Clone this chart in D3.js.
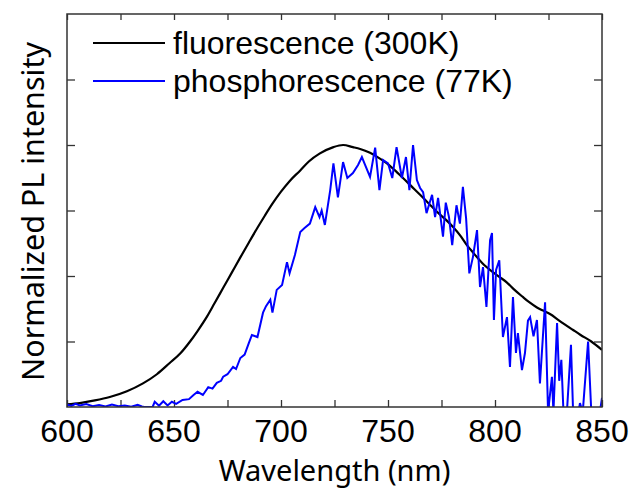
<!DOCTYPE html>
<html>
<head>
<meta charset="utf-8">
<script src="https://cdn.jsdelivr.net/npm/d3@7"></script>
<style>
  body { margin: 0; background: #fff; }
  text { fill: #000; }
</style>
</head>
<body>
<svg id="chart"></svg>
<script>
// fluorescence (300K): [wavelength nm, normalized intensity]
var fluoWl = [600, 606, 613, 620, 628, 635.5, 642, 648, 653, 657.5, 661, 665.4, 669, 673, 677, 681, 685, 689, 692.5, 696, 700, 704, 709, 713, 718, 724.5, 729, 733.6, 737, 741.6, 745.5, 749.5, 753, 757, 761, 765, 769, 773, 777, 780.4, 783.6, 786.5, 789.7, 794, 799, 802, 805.6, 809, 813, 816, 819.6, 822.5, 825.7, 830, 836.5, 840, 845, 850];
var fluoVal = [0.01, 0.015, 0.025, 0.038, 0.06, 0.09, 0.125, 0.168, 0.205, 0.25, 0.29, 0.345, 0.397, 0.455, 0.513, 0.571, 0.628, 0.684, 0.731, 0.776, 0.822, 0.862, 0.903, 0.937, 0.967, 0.992, 1.0, 0.992, 0.985, 0.97, 0.952, 0.93, 0.905, 0.874, 0.842, 0.81, 0.777, 0.744, 0.715, 0.687, 0.656, 0.622, 0.59, 0.55, 0.515, 0.497, 0.475, 0.448, 0.42, 0.40, 0.38, 0.368, 0.355, 0.33, 0.294, 0.275, 0.25, 0.218];

// phosphorescence (77K)
var phosWl = [600, 602, 604, 606, 609, 612, 615, 618, 621, 624, 627, 630, 633, 635, 636, 640, 641, 643, 645, 647, 649, 651, 654, 657, 659, 661, 663.5, 666, 668, 670, 672, 673, 675, 677.6, 679, 681, 683, 685, 686.4, 688, 689, 691.6, 693, 695, 696, 698, 700.5, 702.8, 704, 706.5, 709, 711, 713.5, 716, 718, 719, 720.5, 723, 724.5, 726.6, 729, 731, 733.6, 736, 737.8, 739, 741.6, 744, 746, 747.7, 750, 752, 754, 756.5, 758.4, 760, 761.7, 763.5, 765, 766.4, 768, 770.6, 772, 773.4, 775.7, 777, 778.5, 780, 782, 783.6, 785, 786.5, 788, 789.7, 791.6, 793, 794.4, 796, 797.7, 798.6, 799.5, 800.5, 802, 803.7, 805.6, 807, 808.4, 809.8, 810.7, 812.6, 814, 815.4, 816.4, 818, 819.6, 821, 823.4, 824.8, 826.6, 827.3, 829, 830, 831, 832, 833.6, 835.5, 836.5, 839, 839.7, 841, 843.5, 845, 849, 850];
var phosVal = [0.01, 0.004, 0.012, 0.006, 0.011, 0.003, 0.008, 0.002, 0.009, 0.003, 0.006, 0.001, 0.008, 0.002, 0, 0, 0.02, 0.005, 0.022, 0.006, 0.02, 0.012, 0.027, 0.03, 0.045, 0.058, 0.046, 0.076, 0.07, 0.092, 0.1, 0.116, 0.125, 0.153, 0.145, 0.187, 0.2, 0.245, 0.275, 0.27, 0.267, 0.36, 0.385, 0.41, 0.36, 0.447, 0.466, 0.553, 0.51, 0.58, 0.668, 0.683, 0.70, 0.763, 0.725, 0.75, 0.695, 0.828, 0.93, 0.80, 0.935, 0.874, 0.893, 0.924, 0.954, 0.93, 0.878, 0.99, 0.828, 0.943, 0.93, 0.874, 0.992, 0.874, 0.954, 0.828, 1.0, 0.866, 0.836, 0.82, 0.74, 0.81, 0.725, 0.798, 0.65, 0.78, 0.725, 0.618, 0.77, 0.70, 0.84, 0.72, 0.51, 0.573, 0.675, 0.458, 0.534, 0.382, 0.637, 0.664, 0.332, 0.523, 0.56, 0.267, 0.343, 0.153, 0.42, 0.206, 0.282, 0.141, 0.206, 0.33, 0.343, 0.27, 0.332, 0.09, 0.40, -0.02, 0.115, -0.02, 0.32, 0.1, 0.18, -0.02, -0.02, 0.237, -0.02, -0.02, 0.015, -0.02, 0.25, -0.02, -0.02, 0.035];

var xTicks = [600, 650, 700, 750, 800, 850];
var xMinor = [625, 675, 725, 775, 825];
var yTicks = [0.25, 0.5, 0.75, 1.0, 1.25];
var seriesNames = ["fluorescence (300K)", "phosphorescence (77K)"];
var seriesColors = ["#000000", "#0000ff"];

var W = 632, H = 491;
var m = {left: 67, top: 14, right: 30, bottom: 84};
var w = W - m.left - m.right;
var h = H - m.top - m.bottom;

var svg = d3.select("#chart").attr("width", W).attr("height", H);
var g = svg.append("g").attr("transform", `translate(${m.left},${m.top})`);

var x = d3.scaleLinear().domain([600, 850]).range([0, w]);
var y = d3.scaleLinear().domain([0, 1.5]).range([h, 0]);

g.append("clipPath").attr("id", "clip")
    .append("rect").attr("width", w).attr("height", h);

// ticks (all pointing inward)
var allX = xTicks.concat(xMinor);
g.append("g").attr("transform", `translate(0,${h})`)
    .call(d3.axisBottom(x).tickValues(allX).tickSize(-7).tickFormat(""))
    .call(a => a.select(".domain").remove());
g.append("g")
    .call(d3.axisTop(x).tickValues(allX).tickSize(-6).tickFormat(""))
    .call(a => a.select(".domain").remove());
g.append("g")
    .call(d3.axisLeft(y).tickValues(yTicks).tickSize(-8).tickFormat(""))
    .call(a => a.select(".domain").remove());
g.append("g").attr("transform", `translate(${w},0)`)
    .call(d3.axisRight(y).tickValues(yTicks).tickSize(-8).tickFormat(""))
    .call(a => a.select(".domain").remove());
g.selectAll(".tick line").attr("stroke", "#333").attr("stroke-width", 1.3);

// x tick labels
g.selectAll(".xlab")
    .data(xTicks)
    .enter()
    .append("text")
    .attr("x", d => x(d))
    .attr("y", h + 35)
    .attr("text-anchor", "middle")
    .style("font-family", "Liberation Sans, Arial, sans-serif")
    .style("font-size", "32px")
    .text(d => d);

// lines
g.append("path")
    .datum(fluoWl.map((d, i) => [d, fluoVal[i]]))
    .attr("clip-path", "url(#clip)")
    .attr("d", d3.line().x(d => x(d[0])).y(d => y(d[1])).curve(d3.curveMonotoneX))
    .attr("fill", "none")
    .attr("stroke", seriesColors[0])
    .attr("stroke-width", 2.2);
g.append("path")
    .datum(phosWl.map((d, i) => [d, phosVal[i]]))
    .attr("clip-path", "url(#clip)")
    .attr("d", d3.line().x(d => x(d[0])).y(d => y(d[1])))
    .attr("fill", "none")
    .attr("stroke", seriesColors[1])
    .attr("stroke-width", 2);

// frame
g.append("rect")
    .attr("width", w).attr("height", h)
    .attr("fill", "none")
    .attr("stroke", "#333")
    .attr("stroke-width", 1.5);

// legend
var leg = g.selectAll(".leg")
    .data(seriesNames)
    .enter()
    .append("g")
    .attr("transform", (d, i) => `translate(26,${29 + i * 38})`);
leg.append("line")
    .attr("x1", 0).attr("x2", 72)
    .attr("stroke", (d, i) => seriesColors[i])
    .attr("stroke-width", 2);
leg.append("text")
    .attr("x", 80)
    .attr("y", 11)
    .style("font-family", "Liberation Sans, Arial, sans-serif")
    .style("font-size", "32px")
    .text(d => d);

// axis titles
svg.append("text")
    .attr("x", m.left + w / 2)
    .attr("y", 481)
    .attr("text-anchor", "middle")
    .style("font-family", "Noto Sans, sans-serif")
    .style("font-size", "29px")
    .text("Wavelength (nm)");
svg.append("text")
    .attr("transform", `translate(44,${m.top + h / 2 + 1}) rotate(-90)`)
    .attr("text-anchor", "middle")
    .style("font-family", "Noto Sans, sans-serif")
    .style("font-size", "30.5px")
    .text("Normalized PL intensity");
</script>
</body>
</html>
